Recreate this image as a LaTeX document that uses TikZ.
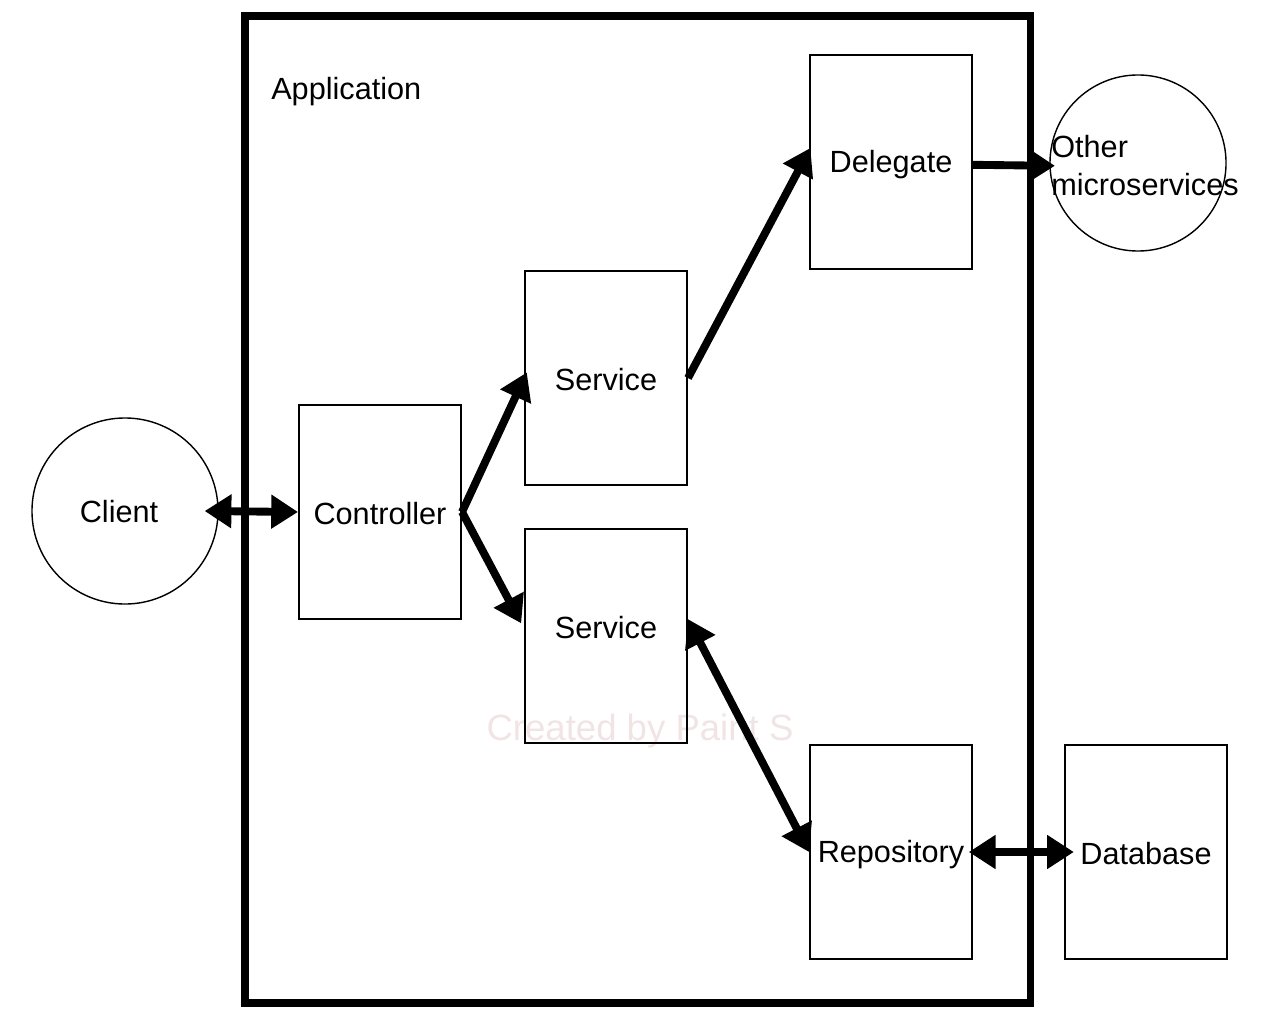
\documentclass[tikz,border=0pt]{standalone}
\usepackage{fontspec}
\setmainfont{Liberation Sans}
\usetikzlibrary{arrows.meta}
\begin{document}
\begin{tikzpicture}[x=0.025cm,y=-0.025cm,
  lbl/.style={font=\fontsize{21.8}{27}\selectfont},
  box/.style={draw, line width=1.4pt, minimum width=4.05cm, minimum height=5.35cm, inner sep=0pt, lbl},
  circ/.style={draw, circle, line width=1pt, inner sep=0pt, lbl},
  tip/.tip={Triangle[length=19pt,width=23pt]},
  conn/.style={line width=5.6pt, -tip},
  both/.style={line width=5.6pt, tip-tip}]
\useasboundingbox (0,0) rectangle (1280,1024);
% watermark
\node[font=\fontsize{26}{30}\selectfont, text={rgb,255:red,241;green,228;blue,228}] (wm) at (640,731) {Created by Paint S};
% application frame
\draw[line width=5pt] (245,16) rectangle (1030,1003);
\node[lbl, anchor=west, inner sep=0pt] (app) at (271,92) {Application};
% nodes
\node[circ, minimum size=4.65cm] (client) at (125,511) {};
\node[lbl] (clienttxt) at (119,512) {Client};
\node[box] (ctrl) at (380,512) {};
\node[lbl] (ctrltxt) at (380,514) {Controller};
\node[box] (svc1) at (606,378) {};
\node[lbl] (svc1txt) at (606,380) {Service};
\node[box] (svc2) at (606,636) {};
\node[lbl] (svc2txt) at (606,628) {Service};
\node[box] (dlg) at (891,162) {};
\node[lbl] (dlgtxt) at (891,165) {Delegate};
\node[box] (repo) at (891,852) {};
\node[lbl] (repotxt) at (891,855) {Repository};
\node[box] (db) at (1146,852) {};
\node[lbl] (dbtxt) at (1146,854) {Database};
\node[circ, minimum size=4.4cm] (oth) at (1138,163) {};
\node[lbl, anchor=west, align=left, inner sep=0pt] (othtxt) at (1051,166) {Other\\microservices};
% connectors
\draw[both] ([xshift=-10pt]client.east) -- (ctrl.west);
\draw[conn] (ctrl.east) -- ([yshift=4pt,xshift=2pt]svc1.west);
\draw[conn] (ctrl.east) -- ([yshift=9pt,xshift=-2pt]svc2.west);
\draw[conn] (svc1.east) -- ([yshift=10pt,xshift=1pt]dlg.west);
\draw[conn] ([yshift=-2pt]dlg.east) -- ([yshift=-2pt,xshift=4pt]oth.west);
\draw[both] ([yshift=12pt]svc2.east) -- (repo.west);
\draw[both] ([xshift=-3pt]repo.east) -- ([xshift=7pt]db.west);
\end{tikzpicture}
\end{document}
